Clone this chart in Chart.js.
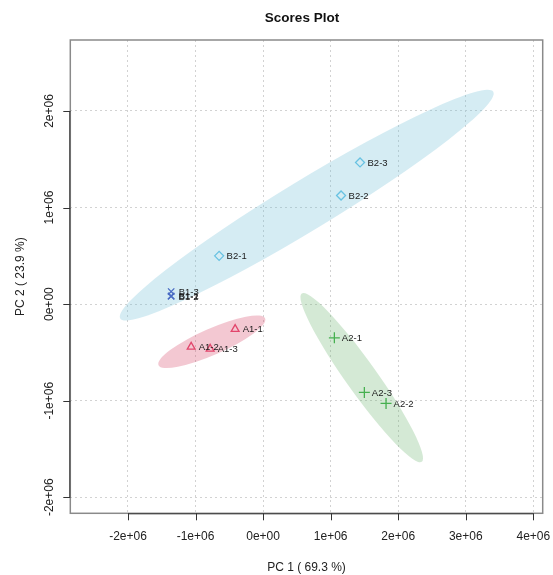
<!DOCTYPE html>
<html>
<head>
<meta charset="utf-8">
<script src="https://cdn.jsdelivr.net/npm/chart.js@4.4.1/dist/chart.umd.min.js"></script>
<style>
  html, body { margin: 0; padding: 0; background: #fff; }
  #wrap { width: 553px; height: 575px; }
</style>
</head>
<body>
<div id="wrap"><canvas id="scoresChart"></canvas></div>
<script>
// sample scores
const a1Names = ['A1-1', 'A1-2', 'A1-3'];
const a1PC1 = [-0.414e6, -1.065e6, -0.784e6];
const a1PC2 = [-0.259e6, -0.442e6, -0.463e6];

const a2Names = ['A2-1', 'A2-2', 'A2-3'];
const a2PC1 = [1.055e6, 1.820e6, 1.499e6];
const a2PC2 = [-0.349e6, -1.028e6, -0.914e6];

const b1Names = ['B1-1', 'B1-2', 'B1-3'];
const b1PC1 = [-1.361e6, -1.362e6, -1.361e6];
const b1PC2 = [0.085e6, 0.080e6, 0.130e6];

const b2Names = ['B2-1', 'B2-2', 'B2-3'];
const b2PC1 = [-0.651e6, 1.154e6, 1.435e6];
const b2PC2 = [0.500e6, 1.125e6, 1.467e6];

const xTickValues = [-2e6, -1e6, 0, 1e6, 2e6, 3e6, 4e6];
const yTickValues = [-2e6, -1e6, 0, 1e6, 2e6];

// confidence ellipses: centre, end of long axis, end of short axis (data units)
const ellipseGroups = ['B2', 'A1', 'A2'];
const ellipseCentres = [[0.646e6, 1.025e6], [-0.759e6, -0.390e6], [1.460e6, -0.761e6]];
const ellipseMajorEnds = [[3.407e6, 2.198e6], [0.030e6, -0.148e6], [2.348e6, -1.633e6]];
const ellipseMinorEnds = [[0.839e6, 0.804e6], [-0.682e6, -0.514e6], [1.646e6, -0.668e6]];

const groupColors = { A1: '#e2466c', A2: '#46b050', B1: '#4a6cc4', B2: '#68c2e2' };
const groupFills = { A1: 'rgba(215,72,105,0.3)', A2: 'rgba(112,182,115,0.3)', B2: 'rgba(115,192,215,0.3)' };
const groupStyles = { A1: 'triangle', A2: 'cross', B1: 'crossRot', B2: 'rectRot' };

const FONT = "'Liberation Sans', Arial, sans-serif";

function sci(v) {
    if (v === 0) return '0e+00';
    const e = Math.floor(Math.log10(Math.abs(v)));
    const m = Math.round(v / Math.pow(10, e) * 100) / 100;
    return m + 'e' + (e < 0 ? '-' : '+') + String(Math.abs(e)).padStart(2, '0');
}

function makeDataset(key, names, pc1, pc2) {
    return {
        label: key,
        data: names.map((n, i) => ({ x: pc1[i], y: pc2[i], name: n })),
        pointStyle: groupStyles[key],
        borderColor: groupColors[key],
        backgroundColor: 'rgba(0,0,0,0)',
        borderWidth: 1.3,
        pointRadius: groupStyles[key] === 'cross' ? 5.5 : 4.5,
    };
}

const scorePlotPlugin = {
    id: 'scorePlot',
    beforeDatasetsDraw(chart) {
        const { ctx, scales: { x, y } } = chart;
        ctx.save();
        ellipseGroups.forEach((g, i) => {
            const cx = x.getPixelForValue(ellipseCentres[i][0]);
            const cy = y.getPixelForValue(ellipseCentres[i][1]);
            const ax = x.getPixelForValue(ellipseMajorEnds[i][0]) - cx;
            const ay = y.getPixelForValue(ellipseMajorEnds[i][1]) - cy;
            const bx = x.getPixelForValue(ellipseMinorEnds[i][0]) - cx;
            const by = y.getPixelForValue(ellipseMinorEnds[i][1]) - cy;
            ctx.beginPath();
            ctx.ellipse(cx, cy, Math.hypot(ax, ay), Math.hypot(bx, by), Math.atan2(ay, ax), 0, Math.PI * 2);
            ctx.fillStyle = groupFills[g];
            ctx.fill();
        });
        ctx.restore();
    },
    afterDatasetsDraw(chart) {
        const { ctx, chartArea: a, scales: { x, y } } = chart;
        ctx.save();

        // point labels
        ctx.font = '9.5px ' + FONT;
        ctx.fillStyle = '#1a1a1a';
        ctx.textAlign = 'left';
        ctx.textBaseline = 'middle';
        chart.data.datasets.forEach(ds => {
            ds.data.forEach(p => {
                ctx.fillText(p.name, x.getPixelForValue(p.x) + 7.5, y.getPixelForValue(p.y) + 0.5);
            });
        });

        // plot box
        ctx.strokeStyle = '#8a8a8a';
        ctx.lineWidth = 1.5;
        ctx.strokeRect(a.left, a.top, a.right - a.left, a.bottom - a.top);

        // axis lines + tick marks
        ctx.strokeStyle = '#333';
        ctx.lineWidth = 1;
        const x0 = x.getPixelForValue(xTickValues[0]);
        const x1 = x.getPixelForValue(xTickValues[xTickValues.length - 1]);
        ctx.beginPath();
        ctx.moveTo(x0, a.bottom + 0.5);
        ctx.lineTo(x1, a.bottom + 0.5);
        xTickValues.forEach(v => {
            const px = Math.round(x.getPixelForValue(v)) + 0.5;
            ctx.moveTo(px, a.bottom);
            ctx.lineTo(px, a.bottom + 7);
        });
        const y0 = y.getPixelForValue(yTickValues[0]);
        const y1 = y.getPixelForValue(yTickValues[yTickValues.length - 1]);
        ctx.moveTo(a.left - 0.5, y0);
        ctx.lineTo(a.left - 0.5, y1);
        yTickValues.forEach(v => {
            const py = Math.round(y.getPixelForValue(v)) + 0.5;
            ctx.moveTo(a.left, py);
            ctx.lineTo(a.left - 7, py);
        });
        ctx.stroke();

        // vertical y tick labels
        ctx.font = '12px ' + FONT;
        ctx.fillStyle = '#222';
        ctx.textAlign = 'center';
        ctx.textBaseline = 'middle';
        yTickValues.forEach(v => {
            ctx.save();
            ctx.translate(50, y.getPixelForValue(v));
            ctx.rotate(-Math.PI / 2);
            ctx.fillText(sci(v), 0, 0);
            ctx.restore();
        });

        // title
        ctx.font = 'bold 13.5px ' + FONT;
        ctx.fillStyle = '#111';
        ctx.textBaseline = 'middle';
        ctx.fillText('Scores Plot', 302, 18.5);
        ctx.restore();
    }
};

const chart = new Chart(document.getElementById('scoresChart'), {
    type: 'scatter',
    data: {
        datasets: [
            makeDataset('B2', b2Names, b2PC1, b2PC2),
            makeDataset('B1', b1Names, b1PC1, b1PC2),
            makeDataset('A1', a1Names, a1PC1, a1PC2),
            makeDataset('A2', a2Names, a2PC1, a2PC2),
        ]
    },
    options: {
        responsive: true,
        maintainAspectRatio: false,
        animation: false,
        layout: { padding: { top: 40, right: 10.3, left: 0, bottom: 0 } },
        plugins: {
            legend: { display: false },
            tooltip: { enabled: false }
        },
        scales: {
            x: {
                type: 'linear',
                min: -2.854e6,
                max: 4.139e6,
                afterBuildTicks: s => { s.ticks = xTickValues.map(v => ({ value: v })); },
                afterFit: s => { s.height = 61.7; s.paddingLeft = 0; s.paddingRight = 0; },
                ticks: {
                    color: '#222',
                    font: { family: FONT, size: 12 },
                    padding: 16.5,
                    maxRotation: 0,
                    callback: v => sci(v)
                },
                grid: { color: '#d2d2d2', drawTicks: false },
                border: { display: false, dash: [2, 3] },
                title: {
                    display: true,
                    text: 'PC 1 ( 69.3 %)',
                    color: '#222',
                    font: { family: FONT, size: 12 },
                    padding: { top: 0, bottom: 0.5 }
                }
            },
            y: {
                type: 'linear',
                min: -2.166e6,
                max: 2.735e6,
                afterBuildTicks: s => { s.ticks = yTickValues.map(v => ({ value: v })); },
                afterFit: s => { s.width = 70.3; s.paddingTop = 0; s.paddingBottom = 0; },
                ticks: { display: false },
                grid: { color: '#d2d2d2', drawTicks: false },
                border: { display: false, dash: [2, 3] },
                title: {
                    display: true,
                    text: 'PC 2 ( 23.9 %)',
                    color: '#222',
                    font: { family: FONT, size: 12 },
                    padding: { top: 13, bottom: 0 }
                }
            }
        }
    },
    plugins: [scorePlotPlugin]
});
</script>
</body>
</html>
